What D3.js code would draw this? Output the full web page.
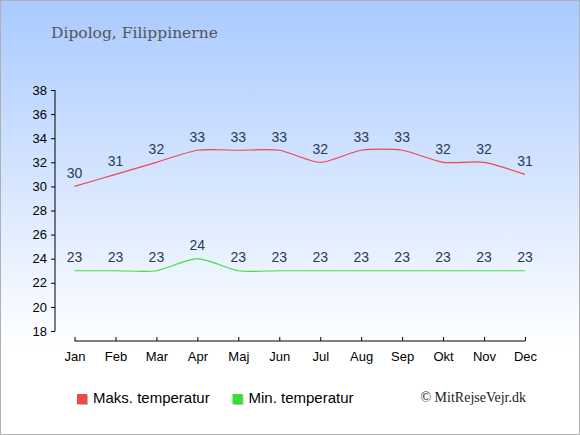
<!DOCTYPE html>
<html><head><meta charset="utf-8">
<script src="https://cdn.jsdelivr.net/npm/d3@7"></script>
<style>html,body{margin:0;padding:0;background:#fff}svg{display:block}</style>
</head><body>
<script>
const months = ["Jan","Feb","Mar","Apr","Maj","Jun","Jul","Aug","Sep","Okt","Nov","Dec"];
const maxTemp = [30,31,32,33,33,33,32,33,33,32,32,31];
const minTemp = [23,23,23,24,23,23,23,23,23,23,23,23];
const yTicks = [18,20,22,24,26,28,30,32,34,36,38];
const title = "Dipolog, Filippinerne";
const legendLabels = ["Maks. temperatur","Min. temperatur"];
const credit = "© MitRejseVejr.dk";

const W=580,H=435;
const svg=d3.select("body").append("svg").attr("width",W).attr("height",H);
const defs=svg.append("defs");
const g=defs.append("linearGradient").attr("id","bg").attr("x1",0).attr("y1",0).attr("x2",0).attr("y2",1);
g.append("stop").attr("offset","0%").attr("stop-color","#a9caff");
g.append("stop").attr("offset","80%").attr("stop-color","#ffffff");
g.append("stop").attr("offset","100%").attr("stop-color","#ffffff");
svg.append("rect").attr("x",0.5).attr("y",0.5).attr("width",W-1).attr("height",H-1)
  .attr("fill","url(#bg)").attr("stroke","#b0b0b0").attr("stroke-width",1);

svg.append("text").attr("x",51).attr("y",38).text(title)
  .attr("font-family","'DejaVu Serif', serif").attr("font-size",15.5).attr("fill","#555");

const x=d3.scalePoint().domain(months).range([74.5,525]);
const y=d3.scaleLinear().domain([18,38]).range([331,90]);

const yAxis=svg.append("g").attr("transform","translate(55,0)")
  .call(d3.axisLeft(y).tickValues(yTicks).tickSize(4).tickSizeOuter(0));
yAxis.select(".domain").attr("d","M0,90V331").attr("stroke","#000");
yAxis.selectAll("text").attr("font-family","'Liberation Sans', Arial, sans-serif").attr("font-size",13).attr("fill","#000").attr("dx",-1);

const xAxis=svg.append("g").attr("transform","translate(0,341)")
  .call(d3.axisBottom(x).tickSize(4).tickSizeOuter(0));
xAxis.select(".domain").attr("d","M74.5,0H525").attr("stroke","#000");
xAxis.selectAll(".tick line").attr("y1",-4).attr("y2",0);
xAxis.selectAll("text").attr("font-family","'Liberation Sans', Arial, sans-serif").attr("font-size",13).attr("fill","#000").attr("dy","1.0em");

const line=d3.line().x((d,i)=>x(months[i])).y(d=>y(d)).curve(d3.curveCardinal.tension(0.3));
svg.append("path").attr("d",line(maxTemp)).attr("fill","none").attr("stroke","#f04848").attr("stroke-width",1.2);
svg.append("path").attr("d",line(minTemp)).attr("fill","none").attr("stroke","#44dd44").attr("stroke-width",1.2);

function labels(arr){
  svg.append("g").selectAll("text").data(arr).join("text")
    .attr("x",(d,i)=>x(months[i])).attr("y",d=>y(d)-8.5)
    .attr("text-anchor","middle").text(d=>d)
    .attr("font-family","'Liberation Sans', Arial, sans-serif").attr("font-size",14).attr("fill","#2a3a5c");
}
labels(maxTemp); labels(minTemp);

const legColors=["#f04848","#33e033"];
const legX=[77,232.5];
legendLabels.forEach((t,i)=>{
  svg.append("rect").attr("x",legX[i]+1).attr("y",395).attr("width",10).attr("height",10).attr("fill","#bbb");
  svg.append("rect").attr("x",legX[i]).attr("y",394).attr("width",10).attr("height",10).attr("fill",legColors[i]);
  svg.append("text").attr("x",legX[i]+16).attr("y",403).text(t)
    .attr("font-family","'Liberation Sans', Arial, sans-serif").attr("font-size",15).attr("fill","#000");
});
svg.append("text").attr("x",526).attr("y",402).attr("text-anchor","end").text(credit)
  .attr("font-family","'Liberation Serif', 'Times New Roman', serif").attr("font-size",14).attr("fill","#222");
</script>
</body></html>
